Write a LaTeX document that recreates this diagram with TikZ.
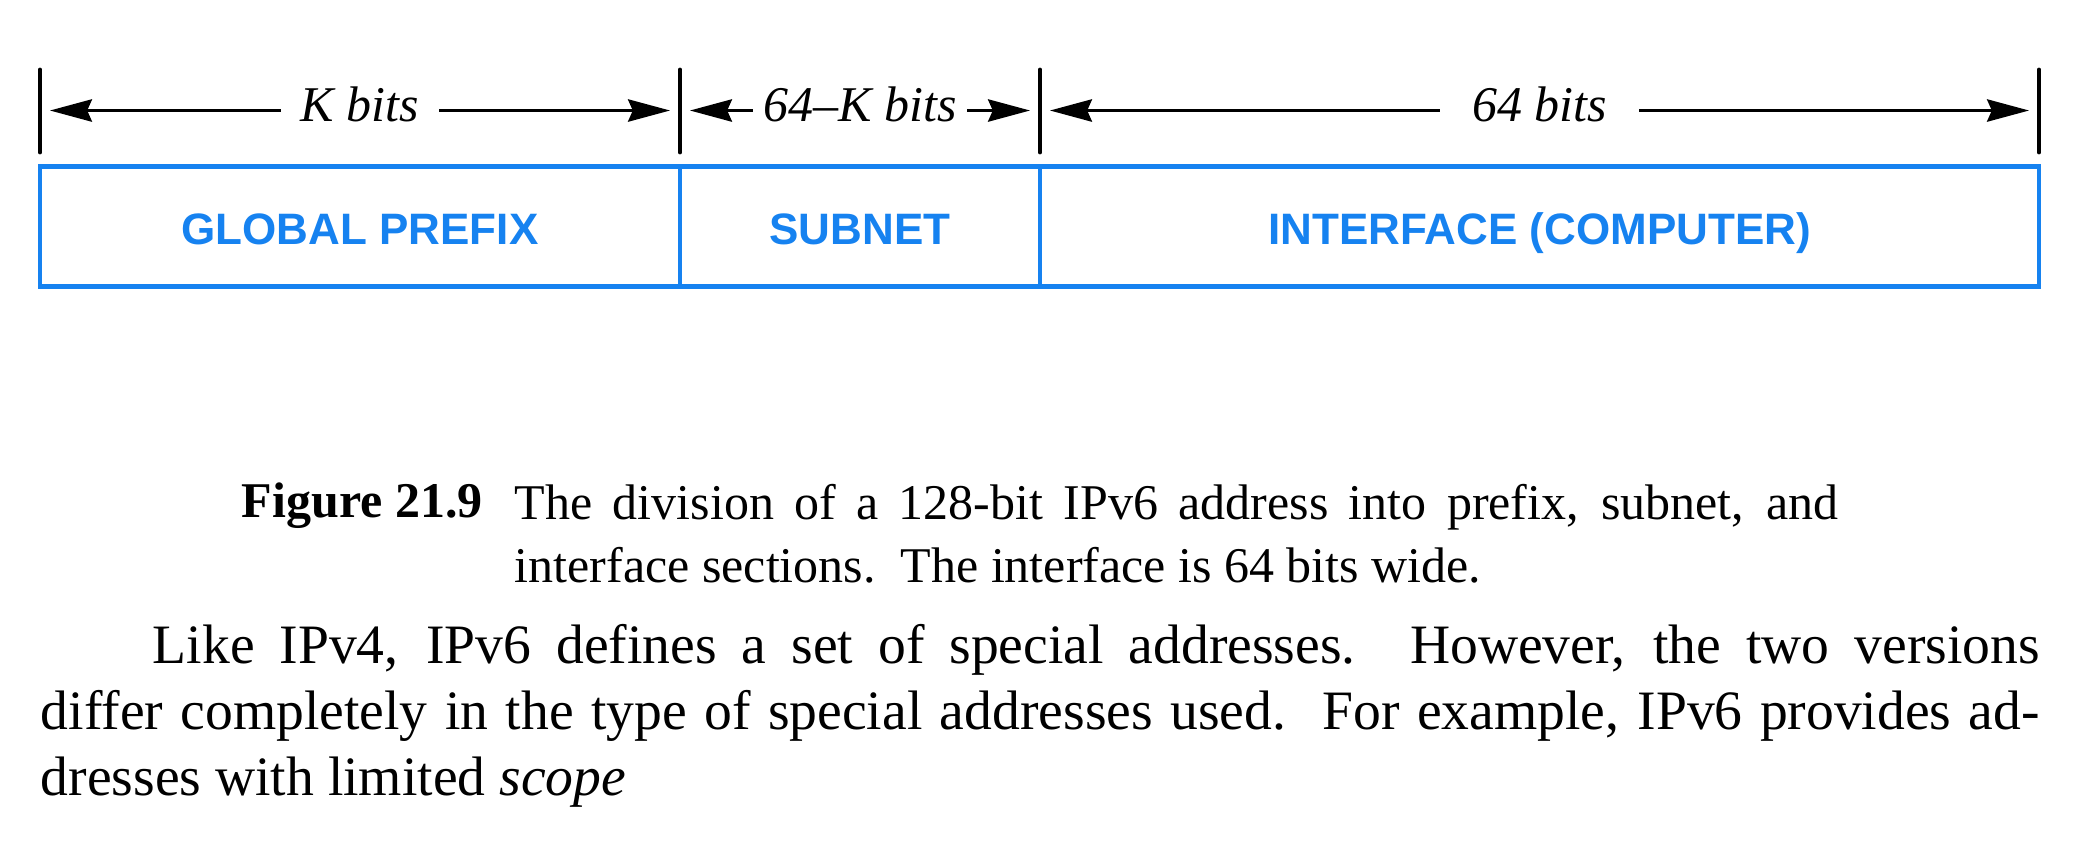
\documentclass[tikz,border=0pt]{standalone}
\usepackage{fontspec}
\setmainfont{Liberation Serif}
\newfontfamily\sanslabel{Liberation Sans}
\usetikzlibrary{positioning,arrows.meta}
\definecolor{fieldblue}{RGB}{22,130,240}
\tolerance=10000
\hbadness=10000

\begin{document}
\begin{tikzpicture}[x=0.25pt, y=-0.25pt,
  cell/.style={draw=fieldblue, line width=1.2pt, outer sep=0pt, minimum height=30pt,
    text=fieldblue, font=\sanslabel\bfseries\fontsize{11pt}{13pt}\selectfont,
    text height=8.8pt, text depth=0pt},
  tick/.style={line width=0.95pt, line cap=round},
  dim/.style={{Stealth[length=10.5pt,width=5.6pt,inset=1.2pt]}-{Stealth[length=10.5pt,width=5.6pt,inset=1.2pt]},
    line width=0.65pt, shorten <=2.5pt, shorten >=2.5pt},
  bitlabel/.style={fill=white, inner ysep=1pt, font=\fontsize{12.5pt}{15pt}\selectfont\itshape,
    text height=8pt, text depth=2.4pt},
  prose/.style={anchor=north west, inner sep=0pt, align=justify}]
  \useasboundingbox (0,0) rectangle (2079,850);

  \node[cell, minimum width=160pt] (gp) at (360,226.5) {GLOBAL PREFIX};
  \node[cell, minimum width=90pt, right=0pt of gp] (sn) {SUBNET};
  \node[cell, minimum width=249.75pt, right=0pt of sn] (ic) {INTERFACE (COMPUTER)};

  \foreach \p [count=\i] in {gp.north west, sn.north west, ic.north west, ic.north east} {
    \draw[tick] ([yshift=3.5pt]\p) -- ([yshift=24.25pt]\p);
    \coordinate (m\i) at ([yshift=14pt]\p);
  }
  \draw[dim] (m1) -- (m2) node[midway, bitlabel, inner xsep=5pt] (kb) {K bits};
  \draw[dim] (m2) -- (m3) node[midway, bitlabel, inner xsep=2.6pt] (skb) {64–K bits};
  \draw[dim] (m3) -- (m4) node[midway, bitlabel, inner xsep=8pt] (ib) {64 bits};

  \node[anchor=base west, inner sep=0pt, font=\fontsize{12.5pt}{15.75pt}\selectfont\bfseries]
    (fig) at (241,517) {Figure 21.9};
  \node[prose, text width=331pt, font=\fontsize{12.5pt}{15.75pt}\selectfont] (cap) at (514,483)
    {\xspaceskip=.5em plus .3em minus .1em
     The division of a 128-bit IPv6 address into prefix, subnet, and\linebreak
     interface sections.  The interface is 64 bits wide.};
  \node[prose, text width=499.75pt, font=\fontsize{13.9pt}{16.4pt}\selectfont] (para) at (40,624)
    {\xspaceskip=.5em plus .3em minus .1em
     \hspace*{28pt}Like IPv4, IPv6 defines a set of special addresses.  However, the two versions\linebreak
     differ completely in the type of special addresses used.  For example, IPv6 provides ad-\linebreak
     dresses with limited \textit{scope}};
\end{tikzpicture}
\end{document}
